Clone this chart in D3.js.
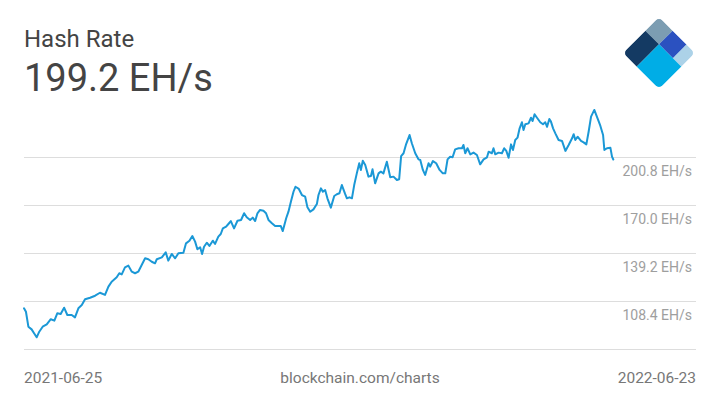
<!DOCTYPE html>
<html><head><meta charset="utf-8">
<script src="https://cdn.jsdelivr.net/npm/d3@7"></script>
<style>html,body{margin:0;padding:0;background:#fff;}svg{display:block;font-family:Roboto,"Noto Sans",sans-serif;}</style>
</head><body>
<svg id="chart" width="720" height="405"></svg>
<script>
const titleText = "Hash Rate";
const currentValue = "199.2 EH/s";
const startLabel = "2021-06-25";
const endLabel = "2022-06-23";
const sourceLabel = "blockchain.com/charts";
const totalDays = 363;
const days = [0,1.2,2.7,4.7,6.2,7.8,9.4,11.5,14.0,16.5,18.7,20.5,22.6,24.7,26.7,29.4,31.4,33.5,35.6,37.6,40.7,43.8,46.8,49.9,52.0,54.0,57.1,58.7,60.2,62.2,64.3,66.4,68.4,70.4,72.5,74.6,76.6,78.7,80.7,81.8,84.9,87.3,88.9,91.0,93.1,95.1,98.2,99.8,101.9,103.7,105.4,106.8,108.5,109.7,110.9,112.6,114.2,116.3,117.7,119.7,121.2,122.5,124.5,125.9,127.4,129.4,131.5,133.7,135.6,137.2,139.3,140.9,142.4,143.8,145.4,147.5,149.1,150.6,152.7,154.7,156.7,158.2,159.4,161.5,162.9,164.4,166.0,167.2,169.3,171.2,173.2,174.6,176.3,178.3,180.4,181.4,182.9,184.1,185.5,186.9,189.0,191.1,192.7,194.3,195.8,197.8,198.9,200.5,202.0,203.4,205.0,206.5,207.5,208.7,210.2,212.2,213.7,214.7,216.3,218.4,219.8,221.4,223.5,225.6,227.6,229.7,231.1,232.3,233.8,235.4,237.5,238.9,241.0,243.0,244.1,245.7,247.1,249.2,250.2,251.9,253.9,256.0,258.0,259.5,260.9,262.5,264.0,265.6,267.7,269.8,270.7,271.8,273.2,274.9,276.9,279.0,281.0,283.1,285.2,286.2,288.2,289.2,290.3,292.3,294.4,295.8,297.1,298.5,300.0,301.2,302.6,304.0,305.3,306.7,307.7,308.8,310.8,312.3,313.3,314.5,316.0,318.0,319.7,321.1,322.2,323.6,324.6,325.9,327.3,329.3,331.4,333.5,335.5,337.6,338.6,339.6,341.0,343.1,344.7,346.4,347.8,349.3,351.3,353.3,355.0,356.7,357.5,359.1,361.2,362.2,363];
const hashRate = [103.7,101.5,91.9,90.2,87.7,85.1,88.7,91.9,93.4,96.7,95.8,100.5,100.1,104.1,99.4,99.4,97.9,103.7,105.8,109.5,110.5,111.8,113.7,112.3,117.6,120.8,123.6,126.2,125.5,130.0,131.1,127.2,126.2,127.2,131.5,135.8,135.2,133.6,132.6,135.2,136.4,139.6,134.3,138.6,135.8,139.0,139.4,145.4,147.1,150.1,146.5,141.6,142.9,138.6,143.2,145.8,143.7,147.1,145.0,149.7,151.4,155.0,156.1,157.8,159.7,155.0,159.9,160.4,164.7,162.1,160.4,161.9,159.7,164.7,166.8,166.3,164.7,160.4,158.3,156.5,156.5,156.5,153.3,161.5,165.7,172.1,178.5,181.7,180.3,176.4,175.3,168.5,165.7,167.2,170.6,176.4,180.7,178.5,179.6,174.3,168.3,175.8,176.9,177.5,182.8,177.1,174.3,174.9,174.3,182.8,190.3,196.8,192.5,198.4,195.7,188.2,188.6,192.9,183.9,190.3,191.4,190.3,197.8,187.8,188.2,186.0,186.5,201.4,203.2,209.1,214.9,209.6,203.2,199.3,198.9,192.5,189.3,196.8,194.6,198.2,196.8,192.5,190.3,190.3,199.3,201.0,200.6,205.7,206.4,206.4,208.5,203.2,206.4,202.5,203.6,202.1,196.1,199.3,200.6,204.2,203.2,206.4,202.5,203.6,203.2,206.4,204.7,200.3,208.9,205.3,211.7,213.2,219.2,223.1,218.1,221.8,222.4,226.0,223.9,228.2,226.0,223.1,221.8,223.1,220.2,225.2,223.5,219.2,216.0,211.7,211.1,204.7,208.5,212.8,215.4,211.7,213.8,211.1,210.2,208.9,217.0,226.7,231.0,225.6,220.9,214.9,205.3,206.4,206.8,201.0,199.2];
const gridValues = [77.6, 108.4, 139.2, 170.0, 200.8];
const tickLabels = ["", "108.4 EH/s", "139.2 EH/s", "170.0 EH/s", "200.8 EH/s"];

const svg = d3.select("#chart");
const x = d3.scaleLinear().domain([0, totalDays]).range([24, 613.3]);
const y = d3.scaleLinear().domain([77.6, 231.6]).range([349, 109]);

// gridlines
const yAxis = d3.axisRight(y).tickValues(gridValues).tickSize(672)
  .tickFormat((d,i) => tickLabels[i]);
const ga = svg.append("g").attr("transform", "translate(24,0)").call(yAxis);
ga.select(".domain").remove();
ga.selectAll(".tick line").attr("stroke", "#dddddd").attr("stroke-width", 1);
ga.selectAll(".tick text").attr("x", 668).attr("dy", 0).attr("y", 18.5)
  .attr("text-anchor", "end").attr("fill", "#9e9e9e")
  .style("font-size", "14px").style("font-family", "Roboto");

// line
const data = days.map((d,i) => ({d, v: hashRate[i]}));
const line = d3.line().x(p => x(p.d)).y(p => y(p.v));
svg.append("path").datum(data).attr("d", line)
  .attr("fill", "none").attr("stroke", "#1b98d6").attr("stroke-width", 2)
  .attr("stroke-linejoin", "round").attr("stroke-linecap", "round");

// titles
svg.append("text").attr("x", 24).attr("y", 46.5).text(titleText)
  .attr("fill", "#444").style("font-size", "24px");
svg.append("text").attr("x", 24).attr("y", 91).text(currentValue)
  .attr("fill", "#444").style("font-size", "38px");

// footer
svg.append("text").attr("x", 24).attr("y", 383).text(startLabel)
  .attr("fill", "#777").style("font-size", "15.5px");
svg.append("text").attr("x", 360).attr("y", 383).attr("text-anchor", "middle").text(sourceLabel)
  .attr("fill", "#777").style("font-size", "15.5px");
svg.append("text").attr("x", 696).attr("y", 383).attr("text-anchor", "end").text(endLabel)
  .attr("fill", "#777").style("font-size", "15.5px");

// logo: local x runs down-right, local y runs down-left after rotate(45)
const S = 51, a = 19.3, b = 39;
const defs = svg.append("defs");
defs.append("clipPath").attr("id", "logoClip").append("rect")
  .attr("width", S).attr("height", S).attr("rx", 5).attr("ry", 5);
const logo = svg.append("g").attr("transform", "translate(659,17) rotate(45)");
const lg = logo.append("g").attr("clip-path", "url(#logoClip)");
const pieces = [
  {x:0, y:0, w:a, h:a, c:"#7c9db2"},
  {x:a, y:0, w:b-a, h:a, c:"#2b51c0"},
  {x:b, y:0, w:S-b, h:a, c:"#acd2e8"},
  {x:0, y:a, w:a, h:S-a, c:"#143a63"},
  {x:a, y:a, w:S-a, h:S-a, c:"#00ade6"}
];
lg.selectAll("rect").data(pieces).join("rect")
  .attr("x", d => d.x).attr("y", d => d.y)
  .attr("width", d => d.w).attr("height", d => d.h).attr("fill", d => d.c);
</script>
</body></html>
